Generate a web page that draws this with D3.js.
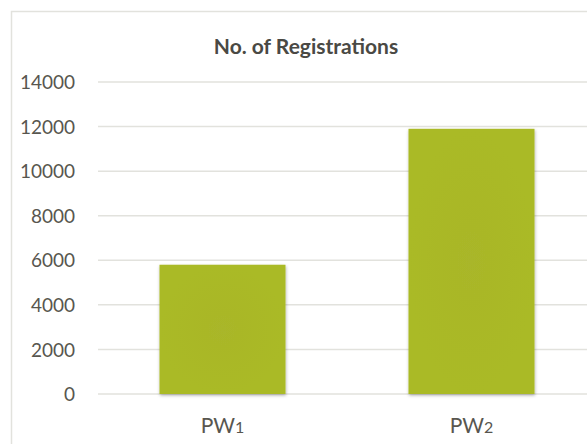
<!DOCTYPE html>
<html>
<head>
<meta charset="utf-8">
<script src="https://cdn.jsdelivr.net/npm/d3@7"></script>
<style>
  body { margin: 0; background: #fff; }
  svg text { font-family: Lato, "Open Sans", sans-serif; fill: #58564f; }
</style>
</head>
<body>
<script>
// Chart data
var categories = ["PW1", "PW2"];
var registrations = [5800, 11900];
var yTicks = [0, 2000, 4000, 6000, 8000, 10000, 12000, 14000];
var chartTitle = "No. of Registrations";

// SVG area dimensions
var svgWidth = 587;
var svgHeight = 444;

var margin = { top: 82, right: -9, bottom: 50, left: 98 };
var chartWidth = svgWidth - margin.left - margin.right;
var chartHeight = svgHeight - margin.top - margin.bottom;

var svg = d3.select("body")
  .append("svg")
  .attr("width", svgWidth)
  .attr("height", svgHeight);

// outer chart border
svg.append("rect")
  .attr("x", 11.5)
  .attr("y", 11.5)
  .attr("width", svgWidth + 10)
  .attr("height", svgHeight + 10)
  .attr("fill", "none")
  .attr("stroke", "#e2e2dd")
  .attr("stroke-width", 1.5);

// bar fill and shadow
var defs = svg.append("defs");
var grad = defs.append("radialGradient").attr("id", "barFill");
grad.append("stop").attr("offset", "0%").attr("stop-color", "#a9b629");
grad.append("stop").attr("offset", "100%").attr("stop-color", "#aaba25");

var shadow = defs.append("filter").attr("id", "barShadow")
  .attr("x", "-10%").attr("y", "-10%").attr("width", "130%").attr("height", "130%");
shadow.append("feDropShadow")
  .attr("dx", 0.5).attr("dy", 1.5)
  .attr("stdDeviation", 1.5)
  .attr("flood-color", "#000")
  .attr("flood-opacity", 0.3);

var chartGroup = svg.append("g")
  .attr("transform", `translate(${margin.left}, ${margin.top})`);

// scales
var xBandScale = d3.scaleBand()
  .domain(categories)
  .range([0, chartWidth])
  .paddingInner(0.494)
  .paddingOuter(0.247);

var yLinearScale = d3.scaleLinear()
  .domain([0, 14000])
  .range([chartHeight, 0]);

// gridlines
chartGroup.append("g")
  .selectAll("line")
  .data(yTicks)
  .enter()
  .append("line")
  .attr("x1", 0)
  .attr("x2", chartWidth)
  .attr("y1", d => yLinearScale(d))
  .attr("y2", d => yLinearScale(d))
  .attr("stroke", "#e2e2dd")
  .attr("stroke-width", 1.5);

// left axis (labels only)
var leftAxis = d3.axisLeft(yLinearScale)
  .tickValues(yTicks)
  .tickSize(0)
  .tickPadding(23)
  .tickFormat(d3.format("d"));

var yAxisGroup = chartGroup.append("g")
  .attr("font-size", null)
  .attr("font-family", null)
  .call(leftAxis);
yAxisGroup.select(".domain").remove();
yAxisGroup.selectAll("text")
  .attr("fill", null)
  .style("font-size", "19px")
  .attr("dy", "0.35em");

// bars
chartGroup.selectAll(".bar")
  .data(registrations)
  .enter()
  .append("rect")
  .attr("class", "bar")
  .attr("x", (d, i) => xBandScale(categories[i]))
  .attr("y", d => yLinearScale(d))
  .attr("width", xBandScale.bandwidth())
  .attr("height", d => chartHeight - yLinearScale(d))
  .attr("fill", "url(#barFill)")
  .attr("filter", "url(#barShadow)");

// category labels
var catLabels = chartGroup.selectAll(".cat")
  .data(categories)
  .enter()
  .append("text")
  .attr("class", "cat")
  .attr("x", d => xBandScale(d) + xBandScale.bandwidth() / 2)
  .attr("y", chartHeight + 39)
  .attr("text-anchor", "middle")
  .style("font-size", "21px");
catLabels.append("tspan").text(d => d.slice(0, 2));
catLabels.append("tspan").style("font-size", "16px").text(d => d.slice(2));

// title
svg.append("text")
  .attr("x", 306)
  .attr("y", 54)
  .attr("text-anchor", "middle")
  .style("font-size", "21px")
  .attr("font-weight", "bold")
  .style("fill", "#4a4944")
  .text(chartTitle);
</script>
</body>
</html>
